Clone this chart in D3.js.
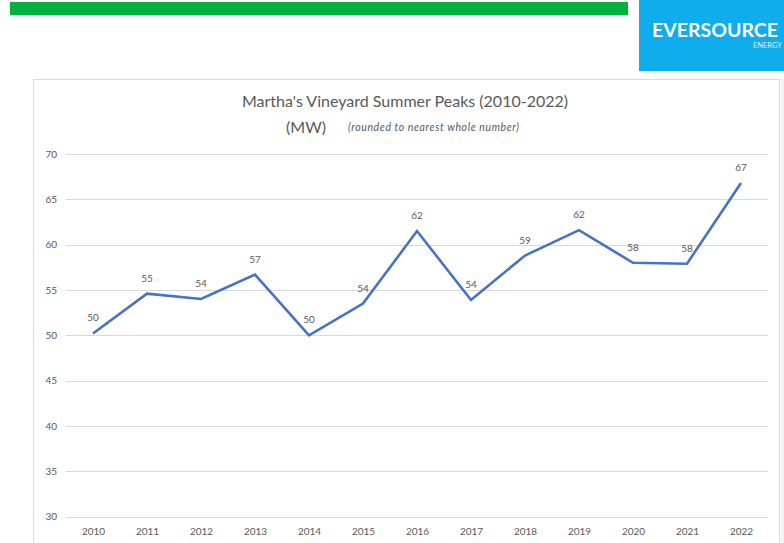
<!DOCTYPE html>
<html><head><meta charset="utf-8">
<script src="https://cdn.jsdelivr.net/npm/d3@7"></script>
<style>body{margin:0;background:#fff;}svg{display:block;}</style>
</head><body>
<svg id="c" width="784" height="543"></svg>
<script>
const years = ["2010","2011","2012","2013","2014","2015","2016","2017","2018","2019","2020","2021","2022"];
const peaks = [50.2, 54.6, 54.0, 56.7, 50.0, 53.5, 61.5, 53.9, 58.8, 61.6, 58.0, 57.9, 66.8];
const labels = [50, 55, 54, 57, 50, 54, 62, 54, 59, 62, 58, 58, 67];
const yTicks = [30, 35, 40, 45, 50, 55, 60, 65, 70];
const titleText = "Martha's Vineyard Summer Peaks (2010-2022)";
const unitText = "(MW)";
const noteText = "(rounded to nearest whole number)";

const svg = d3.select("#c");
const font = "Lato, 'Open Sans', sans-serif";
const gray = "#595959";

// header decorations
svg.append("rect").attr("x",10).attr("y",2).attr("width",618).attr("height",13).attr("fill","#00b140");
svg.append("rect").attr("x",639).attr("y",0).attr("width",145).attr("height",71).attr("fill","#0fadeb");
svg.append("text").attr("x",652).attr("y",37).attr("fill","#fff").attr("font-family",font)
  .attr("font-weight",700).attr("font-size",19.5).text("EVERSOURCE");
svg.append("text").attr("x",782).attr("y",48).attr("fill","#d9f1fc").attr("font-family",font)
  .attr("text-anchor","end").attr("font-size",7.5).text("ENERGY");

// chart frame
svg.append("rect").attr("x",780.5).attr("y",79).attr("width",4).attr("height",464).attr("fill","#f4f4f4");
svg.append("rect").attr("x",33.5).attr("y",79.5).attr("width",746).attr("height",470)
  .attr("fill","#fff").attr("stroke","#d9d9d9").attr("stroke-width",1);

const x = d3.scalePoint().domain(years).range([66,768]).padding(0.5);
const y = d3.scaleLinear().domain([30,70]).range([516.6,154]);

// gridlines
svg.append("g").selectAll("line").data(yTicks).join("line")
  .attr("x1",66).attr("x2",768).attr("y1",d=>Math.round(y(d))+0.5).attr("y2",d=>Math.round(y(d))+0.5)
  .attr("stroke","#d9d9d9").attr("stroke-width",1);

// y axis
const yAxis = svg.append("g").attr("transform","translate(57,0)")
  .call(d3.axisLeft(y).tickValues(yTicks).tickSize(0).tickPadding(0));
yAxis.select(".domain").remove();
yAxis.selectAll("text").attr("fill",gray).attr("font-family",font).attr("font-size",10);

// x axis
const xAxis = svg.append("g").attr("transform","translate(0,528)")
  .call(d3.axisBottom(x).tickSize(0).tickPadding(0));
xAxis.select(".domain").remove();
xAxis.selectAll("text").attr("fill",gray).attr("font-family",font).attr("font-size",10).attr("dy","0.71em");

// line
const line = d3.line().x((d,i)=>x(years[i])).y(d=>y(d));
svg.append("path").datum(peaks).attr("d",line).attr("fill","none")
  .attr("stroke","#4472c4").attr("stroke-width",2.6).attr("stroke-linejoin","miter");

// data labels
svg.append("g").selectAll("text").data(peaks).join("text")
  .attr("x",(d,i)=>x(years[i])).attr("y",d=>y(d)-12)
  .attr("text-anchor","middle").attr("fill",gray).attr("font-family",font).attr("font-size",10)
  .text((d,i)=>labels[i]);

// titles
svg.append("text").attr("x",405).attr("y",107).attr("text-anchor","middle")
  .attr("fill",gray).attr("font-family",font).attr("font-size",16).text(titleText);
svg.append("text").attr("x",286).attr("y",133).attr("fill",gray).attr("font-family",font)
  .attr("font-size",16).text(unitText);
svg.append("text").attr("x",348).attr("y",131).attr("fill",gray).attr("font-family",font)
  .attr("font-size",10.5).attr("font-style","italic")
  .attr("textLength",171).attr("lengthAdjust","spacing").text(noteText);
</script>
</body></html>
